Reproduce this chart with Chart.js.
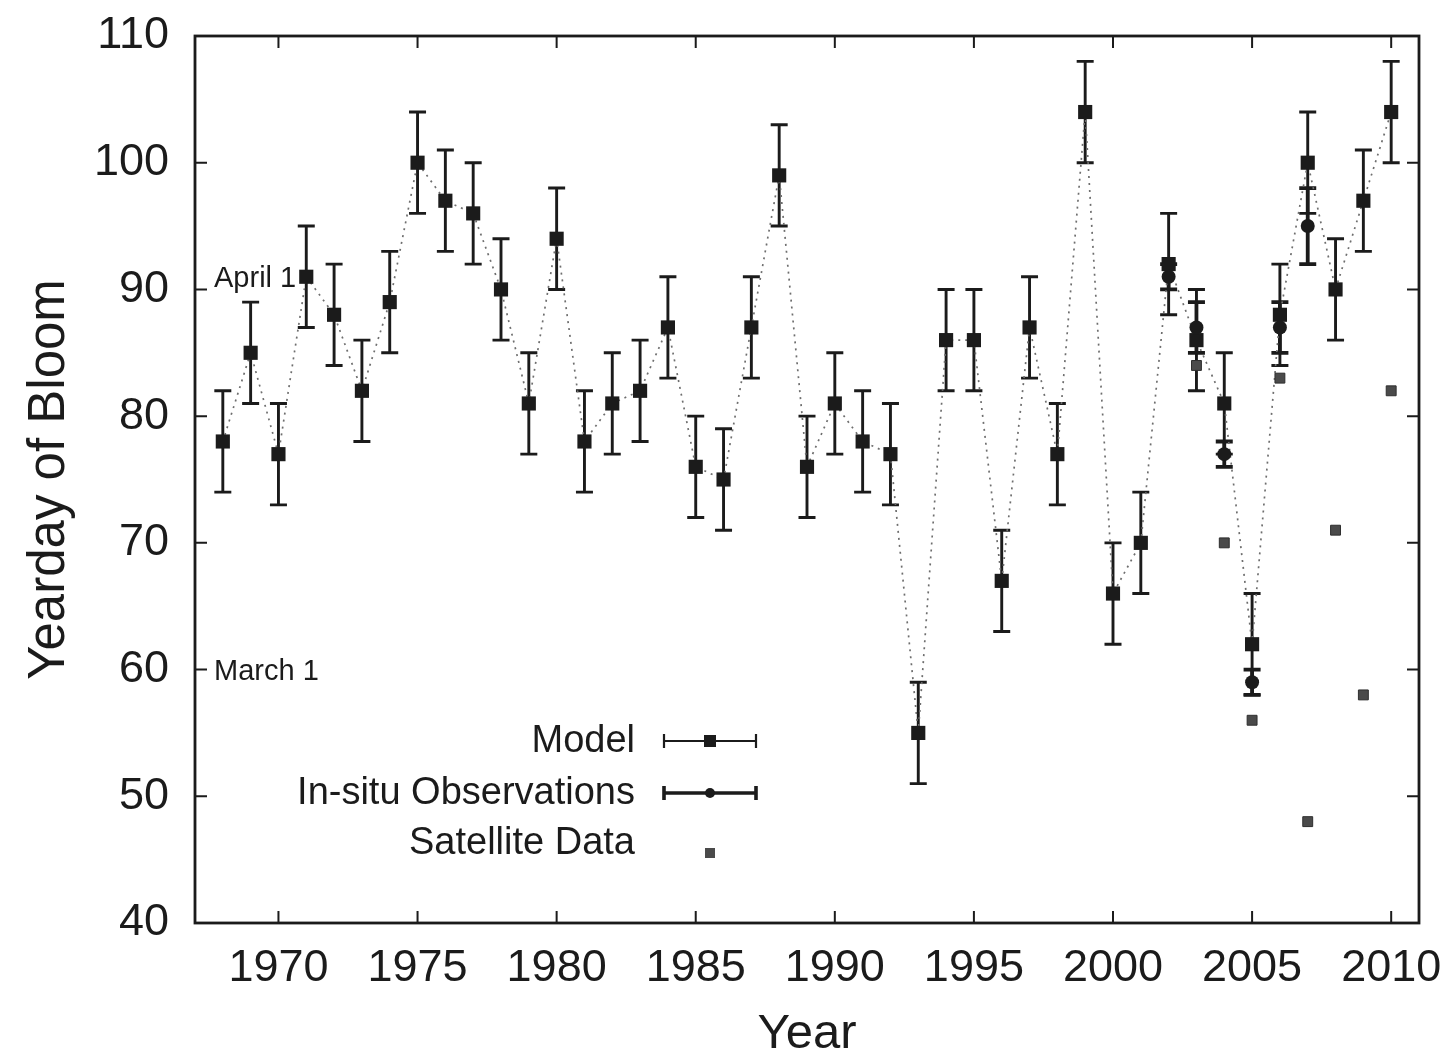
<!DOCTYPE html>
<html>
<head>
<meta charset="utf-8">
<title>Yearday of Bloom</title>
<script src="https://cdn.jsdelivr.net/npm/chart.js@4.4.1/dist/chart.umd.min.js"></script>
<style>
  html, body { margin: 0; padding: 0; background: #fff; }
  #bloom_wrap { width: 1454px; height: 1060px; }
</style>
</head>
<body>
<div id="bloom_wrap"><canvas id="bloom_chart" width="1454" height="1060"></canvas></div>
<script>
// ---- data
const years = [1968, 1969, 1970, 1971, 1972, 1973, 1974, 1975, 1976, 1977,
               1978, 1979, 1980, 1981, 1982, 1983, 1984, 1985, 1986, 1987,
               1988, 1989, 1990, 1991, 1992, 1993, 1994, 1995, 1996, 1997,
               1998, 1999, 2000, 2001, 2002, 2003, 2004, 2005, 2006, 2007,
               2008, 2009, 2010];
const modelDay = [78, 85, 77, 91, 88, 82, 89, 100, 97, 96,
                  90, 81, 94, 78, 81, 82, 87, 76, 75, 87,
                  99, 76, 81, 78, 77, 55, 86, 86, 67, 87,
                  77, 104, 66, 70, 92, 86, 81, 62, 88, 100,
                  90, 97, 104];
const modelErr = [4, 4, 4, 4, 4, 4, 4, 4, 4, 4,
                  4, 4, 4, 4, 4, 4, 4, 4, 4, 4,
                  4, 4, 4, 4, 4, 4, 4, 4, 4, 4,
                  4, 4, 4, 4, 4, 4, 4, 4, 4, 4,
                  4, 4, 4];

const insituYears = [2002, 2003, 2004, 2005, 2006, 2007];
const insituDay   = [91, 87, 77, 59, 87, 95];
const insituErr   = [1, 2, 1, 1, 2, 3];

const satYears = [2003, 2004, 2005, 2006, 2007, 2008, 2009, 2010];
const satDay   = [84, 70, 56, 83, 48, 71, 58, 82];

const yearTicks = [1970, 1975, 1980, 1985, 1990, 1995, 2000, 2005, 2010];
const dayTicks  = [40, 50, 60, 70, 80, 90, 100, 110];

const markLabels = ['April 1', 'March 1'];
const markDays   = [91, 60];

const legendLabels = ['Model', 'In-situ Observations', 'Satellite Data'];

const INK  = '#1b1b1b';
const FONT = '"Liberation Sans", Arial, Helvetica, sans-serif';

const toPoints = (xs, ys) => xs.map((v, i) => ({ x: v, y: ys[i] }));

// ---- error bars, frame, inward ticks, notes, legend
function drawErrBars(ctx, sx, sy, xs, ys, errs, width, cap) {
    ctx.strokeStyle = INK;
    ctx.lineWidth = width;
    xs.forEach((v, i) => {
        const px = sx.getPixelForValue(v);
        const top = sy.getPixelForValue(ys[i] + errs[i]);
        const bot = sy.getPixelForValue(ys[i] - errs[i]);
        ctx.beginPath();
        ctx.moveTo(px, top); ctx.lineTo(px, bot);
        ctx.moveTo(px - cap, top); ctx.lineTo(px + cap, top);
        ctx.moveTo(px - cap, bot); ctx.lineTo(px + cap, bot);
        ctx.stroke();
    });
}

const bloomDecor = {
    id: 'bloomDecor',
    beforeDatasetsDraw(chart) {
        const { ctx, scales: { x, y } } = chart;
        ctx.save();
        ctx.lineCap = 'butt';
        drawErrBars(ctx, x, y, years, modelDay, modelErr, 2.9, 8.5);
        drawErrBars(ctx, x, y, insituYears, insituDay, insituErr, 3.8, 8.5);
        ctx.restore();
    },
    afterDraw(chart) {
        const { ctx, chartArea: a, scales: { x, y } } = chart;
        const tl = 12;
        ctx.save();

        // frame
        ctx.strokeStyle = INK;
        ctx.lineWidth = 2.8;
        ctx.strokeRect(a.left, a.top, a.right - a.left, a.bottom - a.top);

        // ticks on all four sides, pointing in
        ctx.lineWidth = 2;
        ctx.beginPath();
        yearTicks.forEach(v => {
            const px = x.getPixelForValue(v);
            ctx.moveTo(px, a.bottom); ctx.lineTo(px, a.bottom - tl);
            ctx.moveTo(px, a.top);    ctx.lineTo(px, a.top + tl);
        });
        dayTicks.forEach(v => {
            const py = y.getPixelForValue(v);
            ctx.moveTo(a.left, py);  ctx.lineTo(a.left + tl, py);
            ctx.moveTo(a.right, py); ctx.lineTo(a.right - tl, py);
        });
        ctx.stroke();

        // date notes
        ctx.fillStyle = INK;
        ctx.font = '29px ' + FONT;
        ctx.textAlign = 'left';
        ctx.textBaseline = 'middle';
        markLabels.forEach((t, i) => {
            ctx.fillText(t, a.left + 19, y.getPixelForValue(markDays[i]) + 2);
        });

        // legend
        const lx = 635, s0 = 664, s1 = 756, sm = (s0 + s1) / 2;
        const rows = [741, 793, 843];
        ctx.font = '38px ' + FONT;
        ctx.textAlign = 'right';
        legendLabels.forEach((t, i) => ctx.fillText(t, lx, rows[i] + 1));

        [2.2, 3.6].forEach((w, i) => {
            const ry = rows[i];
            ctx.lineWidth = w;
            ctx.beginPath();
            ctx.moveTo(s0, ry); ctx.lineTo(s1, ry);
            ctx.moveTo(s0, ry - 7); ctx.lineTo(s0, ry + 7);
            ctx.moveTo(s1, ry - 7); ctx.lineTo(s1, ry + 7);
            ctx.stroke();
        });
        ctx.fillRect(sm - 6, rows[0] - 6, 12, 12);
        ctx.beginPath();
        ctx.arc(sm, rows[1], 5, 0, Math.PI * 2);
        ctx.fill();
        ctx.fillStyle = '#4a4a4a';
        ctx.fillRect(sm - 5, rows[2] + 5, 10, 10);

        ctx.restore();
    }
};

// ---- chart
const ctx = document.getElementById('bloom_chart').getContext('2d');
const chart = new Chart(ctx, {
    type: 'scatter',
    data: {
        datasets: [
            {
                label: 'Model',
                data: toPoints(years, modelDay),
                showLine: true,
                borderColor: '#6e6e6e',
                borderWidth: 1.7,
                borderDash: [2, 5],
                pointStyle: 'rect',
                pointRadius: 10,
                pointBackgroundColor: INK,
                pointBorderColor: INK,
                pointBorderWidth: 0,
                order: 2
            },
            {
                label: 'In-situ Observations',
                data: toPoints(insituYears, insituDay),
                showLine: false,
                pointStyle: 'circle',
                pointRadius: 7,
                pointBackgroundColor: INK,
                pointBorderColor: INK,
                pointBorderWidth: 0,
                order: 1
            },
            {
                label: 'Satellite Data',
                data: toPoints(satYears, satDay),
                showLine: false,
                pointStyle: 'rect',
                pointRadius: 7,
                pointBackgroundColor: '#4a4a4a',
                pointBorderColor: '#2e2e2e',
                pointBorderWidth: 1,
                order: 0
            }
        ]
    },
    options: {
        responsive: false,
        animation: false,
        devicePixelRatio: 1,
        layout: { padding: { top: 36, right: 35, left: 0, bottom: 0 } },
        plugins: {
            legend: { display: false },
            tooltip: { enabled: false }
        },
        scales: {
            x: {
                type: 'linear',
                min: 1967,
                max: 2011,
                afterBuildTicks: s => { s.ticks = yearTicks.map(v => ({ value: v })); },
                afterFit: s => { s.height = 137; s.paddingLeft = 0; s.paddingRight = 0; },
                grid: { display: false, drawTicks: false },
                border: { display: false },
                ticks: {
                    color: INK,
                    padding: 19,
                    maxRotation: 0,
                    font: { family: FONT, size: 45 },
                    callback: v => String(v)
                },
                title: {
                    display: true,
                    text: 'Year',
                    color: INK,
                    font: { family: FONT, size: 49, lineHeight: 1 },
                    padding: { top: 0, bottom: 1 }
                }
            },
            y: {
                type: 'linear',
                min: 40,
                max: 110,
                afterBuildTicks: s => { s.ticks = dayTicks.map(v => ({ value: v })); },
                afterFit: s => { s.width = 195; s.paddingTop = 0; s.paddingBottom = 0; },
                grid: { display: false, drawTicks: false },
                border: { display: false },
                ticks: {
                    color: INK,
                    padding: 26,
                    font: { family: FONT, size: 45 }
                },
                title: {
                    display: true,
                    text: 'Yearday of Bloom',
                    color: INK,
                    font: { family: FONT, size: 51, lineHeight: 1 },
                    padding: { top: 24, bottom: 0 }
                }
            }
        }
    },
    plugins: [bloomDecor]
});
</script>
</body>
</html>
